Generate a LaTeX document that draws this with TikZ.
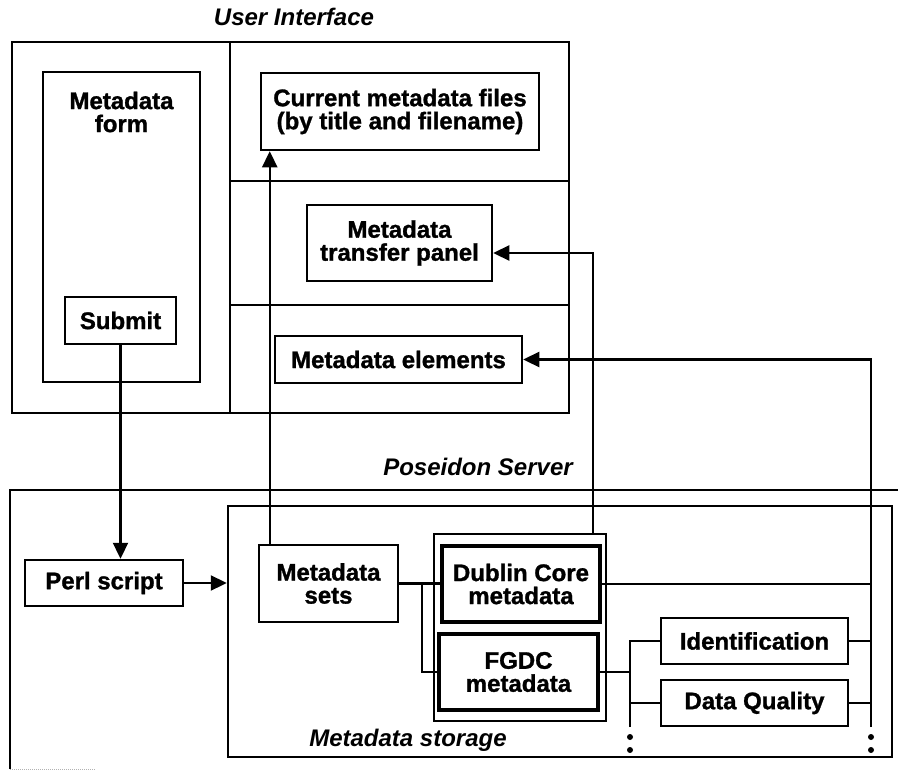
\documentclass[tikz,border=0pt]{standalone}
\usepackage{fontspec}
\setmainfont[BoldFeatures={FakeBold=1.2}]{Liberation Sans}
\usetikzlibrary{arrows.meta,calc}
\begin{document}
\begin{tikzpicture}[x=1pt,y=-1pt,
  every node/.style={font=\fontsize{24}{23}\selectfont\bfseries, inner sep=0pt},
  box/.style 2 args={draw, line width=2.5pt, minimum width=#1, minimum height=#2, align=center},
  thickbox/.style 2 args={box={#1}{#2}, line width=3.6pt},
  frame/.style={line width=2.5pt},
  title/.style={font=\fontsize{24}{23}\selectfont\bfseries\itshape, anchor=base},
  conn/.style={line width=2.3pt},
  arr/.style={conn, -{Triangle[length=16pt,width=15pt]}}
]
\path[fill=white, use as bounding box] (0,0) rectangle (898,771);

% ---------- User interface ----------
\node[title] (uititle) at (294,25) {User Interface};
\node[box={557pt}{371pt}] (ui) at (290.5,227.5) {};
\draw[frame] (230,42) -- (230,413);
\draw[frame] (230,181) -- (569,181);
\draw[frame] (230,305) -- (569,305);

\node[box={157pt}{310pt}] (form) at (121.5,227) {};
\node[align=center] (formtitle) at (121.5,112) {Metadata\\form};
\node[box={111pt}{47pt}] (submit) at (120.5,320.5) {Submit};

\node[box={278pt}{77pt}] (current) at (400,111.5) {Current metadata files\\(by title and filename)};
\node[box={185pt}{76pt}] (transfer) at (399.5,243) {Metadata\\transfer panel};
\node[box={247pt}{47pt}] (elements) at (398.5,359.5) {Metadata elements};

% ---------- Poseidon server ----------
\node[title] (srvtitle) at (478,475) {Poseidon Server};
\draw[frame] (10,769) -- (10,490) -- (898,490);
\draw[gray!60, line width=1pt, densely dotted] (10,769) -- (96,769);

\node[box={158pt}{46pt}] (perl) at (104,583) {Perl script};

\node[box={664pt}{251pt}] (storage) at (560,631.5) {};
\node[title] (sttitle) at (408,746) {Metadata storage};

\node[box={139pt}{77pt}] (sets) at (328.5,583.5) {Metadata\\sets};
\node[draw, line width=2pt, minimum width=172pt, minimum height=187pt] (group) at (520,627.5) {};
\node[thickbox={158pt}{76pt}] (dublin) at (521,584) {Dublin Core\\metadata};
\node[thickbox={159pt}{76pt}] (fgdc) at (518.5,672) {FGDC\\metadata};

\node[box={187pt}{46pt}] (ident) at (754.5,641) {Identification};
\node[box={187pt}{46pt}] (dq) at (754.5,703) {Data Quality};

% ---------- connectors ----------
\draw[arr] (submit.south) -- (submit.south |- perl.north);
\draw[arr] (perl.east) -- (perl.east -| storage.west);
\draw[arr] ([xshift=12pt]sets.north west) -- ([xshift=12pt]sets.north west |- current.south);
\draw[arr] ([xshift=-14pt]group.north east) |- ([yshift=-10pt]transfer.east);

% sets to the two metadata standards
\coordinate (split) at ($(sets.east)+(23,0)$);
\draw[conn] (sets.east) -- (dublin.west |- sets.east);
\draw[conn] (split) |- (fgdc.west);

% FGDC sections bus
\coordinate (lbus) at (630,727);
\draw[conn] (fgdc.east) -- (fgdc.east -| lbus);
\draw[conn] (lbus) |- (ident.west);
\draw[conn] (dq.west) -- (dq.west -| lbus);

% right-hand bus feeding the element list
\coordinate (rbus) at (871,727);
\draw[arr] (rbus) |- (elements.east);
\draw[conn] (dublin.east) -- (dublin.east -| rbus);
\draw[conn] (ident.east) -- (ident.east -| rbus);
\draw[conn] (dq.east) -- (dq.east -| rbus);

% continuation marks
\foreach \x in {630,871} {
  \fill (\x,737) circle (3pt);
  \fill (\x,750) circle (3pt);
}
\end{tikzpicture}
\end{document}
